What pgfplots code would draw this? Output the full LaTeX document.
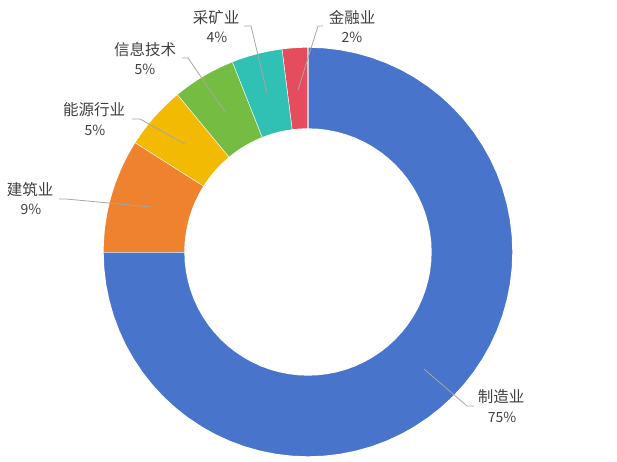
\documentclass[border=0pt]{standalone}
\usepackage{pgfplots}
\pgfplotsset{compat=1.18}
\usepackage{fontspec}
\setmainfont{Noto Sans CJK SC}

\definecolor{cblue}{HTML}{4874CB}
\definecolor{corange}{HTML}{EE822F}
\definecolor{cyellow}{HTML}{F2BA02}
\definecolor{cgreen}{HTML}{75BD42}
\definecolor{cteal}{HTML}{30C0B4}
\definecolor{cred}{HTML}{E54C5E}
\definecolor{txt}{HTML}{404040}
\definecolor{lead}{HTML}{A6A6A6}

\tikzset{
  lab/.style={font=\fontsize{15.5bp}{18bp}\selectfont, text=txt, inner sep=0pt},
  pct/.style={font=\fontsize{14bp}{17bp}\selectfont, text=txt, inner sep=0pt},
}

% running start angle, slices go clockwise from 12 o'clock
\def\cur{90}
\newcommand\sector[2]{%
  \pgfmathsetmacro\sa{\cur}%
  \pgfmathsetmacro\sb{\cur-3.6*#1}%
  \edef\doit{\noexpand\addplot[fill=#2, draw=white, line width=1.3pt,
      domain=0:3, samples=181]
    ({308+rr(\noexpand\x)*cos(th(\noexpand\x,\sa,\sb))},
     {252-rr(\noexpand\x)*sin(th(\noexpand\x,\sa,\sb))});}%
  \doit
  \xdef\cur{\sb}%
}

\begin{document}
\begin{tikzpicture}
\begin{axis}[
    scale only axis,
    width=617bp, height=462bp,
    xmin=0, xmax=617, ymin=0, ymax=462,
    y dir=reverse,
    hide axis,
    clip=false,
    declare function={
      rr(\t)=(\t<1)*205+and(\t>=1,\t<2)*(205-82*(\t-1))+(\t>=2)*123;
      th(\t,\a,\b)=(\t<1)*(\a+(\b-\a)*\t)+and(\t>=1,\t<2)*\b+(\t>=2)*(\b-(\b-\a)*(\t-2));
    },
]
\path (axis cs:0,0) rectangle (axis cs:617,462);

% values in percent
\sector{75}{cblue}
\sector{9}{corange}
\sector{5}{cyellow}
\sector{5}{cgreen}
\sector{4}{cteal}
\sector{2}{cred}

% leader lines
\addplot[lead, line width=0.8pt] coordinates {(424,369) (467,406) (474,406)};
\addplot[lead, line width=0.8pt] coordinates {(151,207) (66,199) (59,199)};
\addplot[lead, line width=0.8pt] coordinates {(185,144) (140,119) (132,119)};
\addplot[lead, line width=0.8pt] coordinates {(225,112) (188,58) (182,58)};
\addplot[lead, line width=0.8pt] coordinates {(267,93) (251,26) (244,26)};
\addplot[lead, line width=0.8pt] coordinates {(298,90) (318,26) (323,26)};

% labels
\node[lab] at (axis cs:501,397) {制造业};
\node[pct] at (axis cs:502,417) {75\%};
\node[lab] at (axis cs:30,190) {建筑业};
\node[pct] at (axis cs:31,209) {9\%};
\node[lab] at (axis cs:94,110) {能源行业};
\node[pct] at (axis cs:95,130) {5\%};
\node[lab] at (axis cs:145,50) {信息技术};
\node[pct] at (axis cs:145,69) {5\%};
\node[lab] at (axis cs:216,18) {采矿业};
\node[pct] at (axis cs:217,37) {4\%};
\node[lab] at (axis cs:352,18) {金融业};
\node[pct] at (axis cs:352,37) {2\%};
\end{axis}
\end{tikzpicture}
\end{document}
